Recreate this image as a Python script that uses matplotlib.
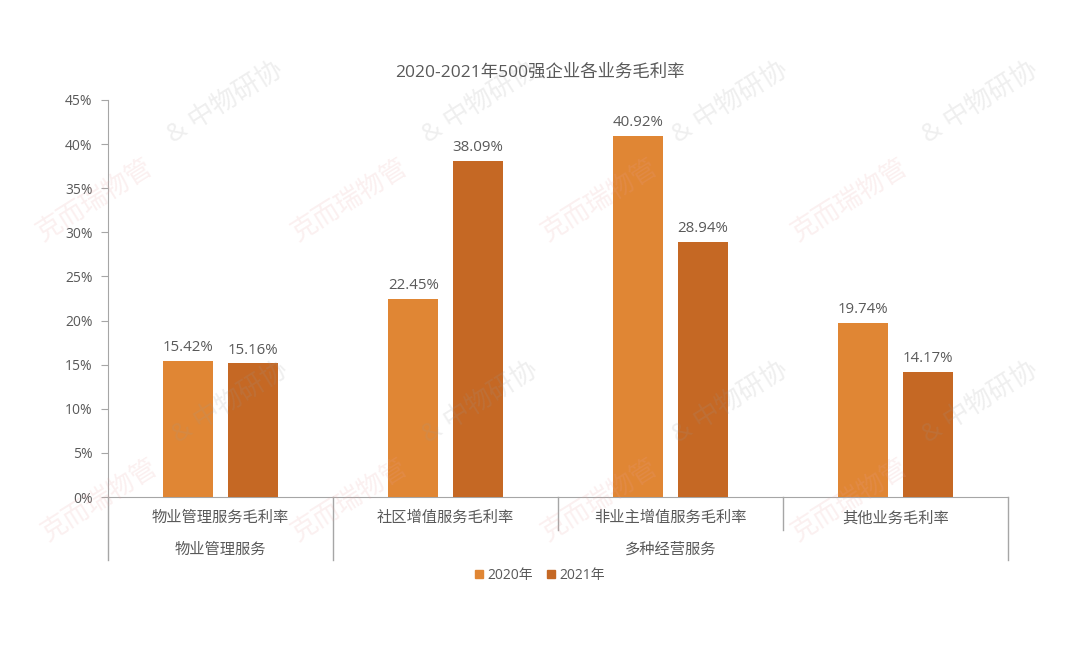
import matplotlib
matplotlib.use("Agg")
import matplotlib.pyplot as plt
import matplotlib.transforms as mtransforms
from matplotlib.patches import Patch

plt.rcParams['font.family'] = ['Open Sans', 'Noto Sans CJK SC', 'DejaVu Sans']

title = "2020-2021年500强企业各业务毛利率"
categories = ["物业管理服务毛利率", "社区增值服务毛利率", "非业主增值服务毛利率", "其他业务毛利率"]
groups = ["物业管理服务", "多种经营服务"]
group_spans = [(0, 0), (1, 3)]
series_names = ["2020年", "2021年"]
values_2020 = [15.42, 22.45, 40.92, 19.74]
values_2021 = [15.16, 38.09, 28.94, 14.17]
yticks = [0, 5, 10, 15, 20, 25, 30, 35, 40, 45]

c2020 = "#E08634"
c2021 = "#C56824"
text_c = "#595959"
line_c = "#A6A6A6"

fig = plt.figure(figsize=(10.8, 6.48), dpi=100)
ax = fig.add_axes([0.1, 0.2330, 0.8333, 0.6127])

# watermarks
wm_centers = [(160, 155), (415, 155), (665, 155), (915, 155),
              (165, 455), (415, 455), (665, 455), (915, 455)]
for (px, py) in wm_centers:
    fx, fy = px / 1080, 1 - py / 648
    fig.text(fx - 0.06, fy - 0.07, "克而瑞物管", color="#E8A0A0", alpha=0.16,
             fontsize=19, rotation=32, ha="center", va="center", zorder=0)
    fig.text(fx + 0.06, fy + 0.08, "& 中物研协", color="#9A9A9A", alpha=0.16,
             fontsize=19, rotation=32, ha="center", va="center", zorder=0)

x = list(range(len(categories)))
off = 0.143
w = 0.222
b1 = ax.bar([i - off for i in x], values_2020, width=w, color=c2020, zorder=3)
b2 = ax.bar([i + off for i in x], values_2021, width=w, color=c2021, zorder=3)

for bars, vals in ((b1, values_2020), (b2, values_2021)):
    for rect, v in zip(bars, vals):
        ax.annotate(f"{v:.2f}%", (rect.get_x() + rect.get_width() / 2, v),
                    xytext=(0, 4), textcoords="offset points",
                    ha="center", va="bottom", fontsize=10.8, color=text_c)

ax.set_xlim(-0.5, len(categories) - 0.5)
ax.set_ylim(0, 45)
ax.set_yticks(yticks)
ax.set_yticklabels([f"{t}%" for t in yticks], fontsize=10, color=text_c)
ax.tick_params(axis="y", direction="out", length=5, color=line_c, pad=6)
ax.set_xticks([])
for s in ("top", "right"):
    ax.spines[s].set_visible(False)
ax.spines["left"].set_color(line_c)
ax.spines["bottom"].set_color(line_c)
ax.patch.set_alpha(0)

trans = mtransforms.blended_transform_factory(ax.transData, ax.transAxes)
inner_len = -0.083
outer_len = -0.159
group_edges = set()
for (a, b) in group_spans:
    group_edges.add(a - 0.5)
    group_edges.add(b + 0.5)
for k in range(len(categories) + 1):
    xe = k - 0.5
    yend = outer_len if xe in group_edges else inner_len
    ax.plot([xe, xe], [0, yend], transform=trans, color=line_c, lw=1.0, clip_on=False)

for i, c in enumerate(categories):
    ax.text(i, -0.055, c, transform=trans, ha="center", va="center", fontsize=11, color=text_c)
for g, (a, b) in zip(groups, group_spans):
    ax.text((a + b) / 2, -0.134, g, transform=trans, ha="center", va="center", fontsize=11, color=text_c)

fig.text(0.5, 1 - 73 / 648, title, fontsize=12.5, color=text_c, ha="center", va="center")

handles = [Patch(color=c2020), Patch(color=c2021)]
fig.legend(handles, series_names, loc="center", bbox_to_anchor=(0.5, 0.112), ncol=2,
           frameon=False, fontsize=10, handlelength=0.6, handleheight=0.6,
           handletextpad=0.3, columnspacing=1.0, labelcolor=text_c)

fig.savefig("out.png", dpi=100, facecolor="white")
